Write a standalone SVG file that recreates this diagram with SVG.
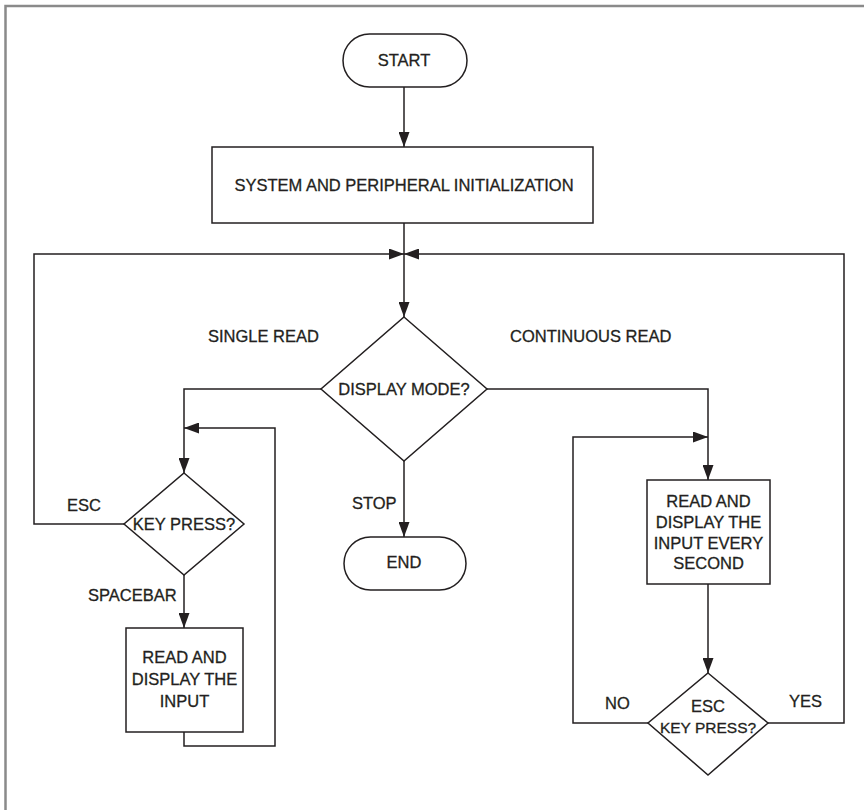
<svg xmlns="http://www.w3.org/2000/svg" width="864" height="810" viewBox="0 0 864 810">
<style>
.shape{fill:#fff;stroke:#231f20;stroke-width:1.5}
.wire{fill:none;stroke:#231f20;stroke-width:1.5}
text{font-family:"Liberation Sans",Arial,sans-serif;font-size:16.5px;fill:#231f20;stroke:#231f20;stroke-width:0.3}
.c{text-anchor:middle}
.s{font-size:15.5px}
</style>
<defs>
<marker id="arr" viewBox="0 0 15 11" refX="15" refY="5.5" markerWidth="15" markerHeight="11" markerUnits="userSpaceOnUse" orient="auto">
<path d="M0,0 L15,5.5 L0,11 Z" fill="#231f20"/>
</marker>
</defs>
<rect x="0" y="0" width="864" height="810" fill="#fff"/>
<path d="M5.5,810 V6 H864" fill="none" stroke="#8a8a8a" stroke-width="2.5"/>

<g id="connectors">
<path class="wire" d="M404,87 V147" marker-end="url(#arr)"/>
<path class="wire" d="M404,223 V317" marker-end="url(#arr)"/>
<path class="wire" d="M124,524 H34 V254 H404" marker-end="url(#arr)"/>
<path class="wire" d="M768,723 H844 V254 H404" marker-end="url(#arr)"/>
<path class="wire" d="M321,389 H184 V473" marker-end="url(#arr)"/>
<path class="wire" d="M487,389 H708 V480" marker-end="url(#arr)"/>
<path class="wire" d="M404,461 V537" marker-end="url(#arr)"/>
<path class="wire" d="M184,575 V628" marker-end="url(#arr)"/>
<path class="wire" d="M184,732 V746 H275 V428 H184" marker-end="url(#arr)"/>
<path class="wire" d="M708,584 V673" marker-end="url(#arr)"/>
<path class="wire" d="M648,723 H573 V437 H708" marker-end="url(#arr)"/>
<text x="208" y="342">SINGLE READ</text>
<text x="510" y="342">CONTINUOUS READ</text>
<text x="67" y="511">ESC</text>
<text x="88" y="601">SPACEBAR</text>
<text x="352" y="509">STOP</text>
<text x="605" y="709">NO</text>
<text x="789" y="707">YES</text>
</g>

<g id="start">
<rect class="shape" x="343" y="34" width="124" height="53" rx="26.5"/>
<text class="c" x="404" y="66">START</text>
</g>
<g id="init">
<rect class="shape" x="212" y="147" width="381" height="76"/>
<text class="c" x="404" y="191">SYSTEM AND PERIPHERAL INITIALIZATION</text>
</g>
<g id="display-mode">
<polygon class="shape" points="404,317 487,389 404,461 321,389"/>
<text class="c" x="404" y="395">DISPLAY MODE?</text>
</g>
<g id="end">
<rect class="shape" x="344" y="537" width="122" height="53" rx="26.5"/>
<text class="c" x="404" y="568">END</text>
</g>
<g id="key-press">
<polygon class="shape" points="184,473 244,524 184,575 124,524"/>
<text class="c" x="184" y="530">KEY PRESS?</text>
</g>
<g id="read-single">
<rect class="shape" x="126" y="628" width="117" height="104"/>
<text class="c" x="184.5" y="663">READ AND</text>
<text class="c" x="184.5" y="685">DISPLAY THE</text>
<text class="c" x="184.5" y="707">INPUT</text>
</g>
<g id="read-continuous">
<rect class="shape" x="647" y="480" width="123" height="104"/>
<text class="c" x="708.5" y="507">READ AND</text>
<text class="c" x="708.5" y="528">DISPLAY THE</text>
<text class="c" x="708.5" y="549">INPUT EVERY</text>
<text class="c" x="708.5" y="569">SECOND</text>
</g>
<g id="esc-key-press">
<polygon class="shape" points="708,673 768,723 708,775 648,723"/>
<text class="c" x="708" y="712">ESC</text>
<text class="c s" x="708" y="733">KEY PRESS?</text>
</g>
</svg>
